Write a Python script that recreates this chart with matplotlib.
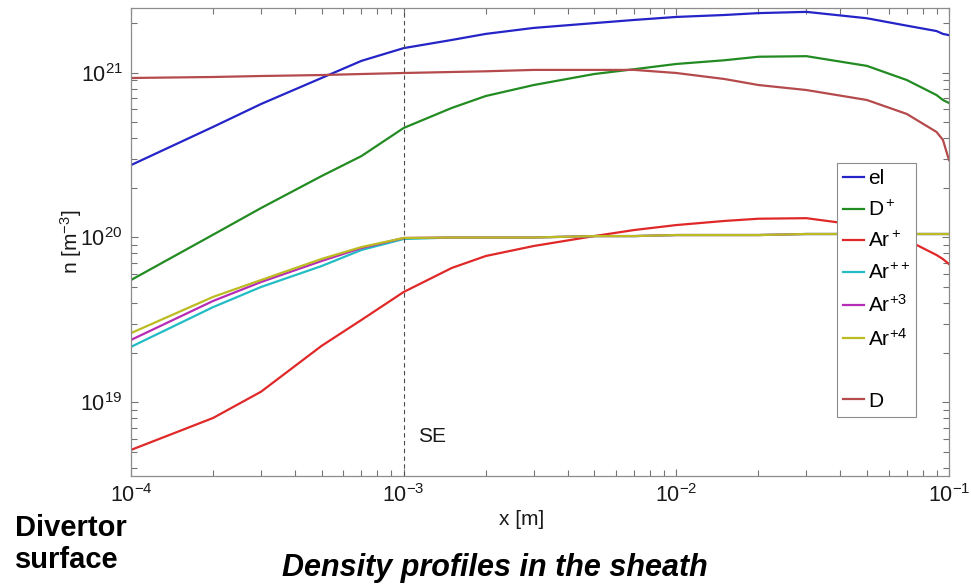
import numpy as np
import matplotlib
matplotlib.use("Agg")
import matplotlib.pyplot as plt
from matplotlib.lines import Line2D
from matplotlib.ticker import LogLocator, NullFormatter

plt.rcParams['font.family'] = ['Liberation Sans', 'DejaVu Sans']
plt.rcParams['mathtext.fontset'] = 'custom'
plt.rcParams['mathtext.rm'] = 'Liberation Sans'
plt.rcParams['mathtext.it'] = 'Liberation Sans:italic'
plt.rcParams['mathtext.bf'] = 'Liberation Sans:bold'

# distance from divertor surface [m]
x_m = [1e-4, 2e-4, 3e-4, 5e-4, 7e-4, 1e-3, 1.5e-3, 2e-3, 3e-3, 5e-3,
       7e-3, 1e-2, 1.5e-2, 2e-2, 3e-2, 5e-2, 7e-2, 9e-2, 9.5e-2, 1e-1]

# densities [m^-3]
n_el = [2.75e20, 4.69e20, 6.46e20, 9.29e20, 1.18e21, 1.41e21, 1.58e21, 1.72e21, 1.87e21, 2.00e21,
        2.09e21, 2.18e21, 2.24e21, 2.30e21, 2.34e21, 2.14e21, 1.93e21, 1.79e21, 1.72e21, 1.69e21]
n_Dp = [5.52e19, 1.04e20, 1.51e20, 2.36e20, 3.12e20, 4.62e20, 6.11e20, 7.22e20, 8.42e20, 9.82e20,
        1.05e21, 1.13e21, 1.19e21, 1.25e21, 1.26e21, 1.10e21, 9.03e20, 7.32e20, 6.83e20, 6.55e20]
n_Ar1 = [5.14e18, 8.03e18, 1.16e19, 2.20e19, 3.16e19, 4.67e19, 6.53e19, 7.72e19, 8.88e19, 1.02e20,
         1.11e20, 1.19e20, 1.26e20, 1.30e20, 1.31e20, 1.17e20, 9.66e19, 7.83e19, 7.40e19, 6.90e19]
n_Ar2 = [2.17e19, 3.78e19, 5.01e19, 6.71e19, 8.40e19, 9.79e19, 1.00e20, 1.00e20, 1.00e20, 1.02e20,
         1.02e20, 1.035e20, 1.035e20, 1.035e20, 1.05e20, 1.05e20, 1.05e20, 1.05e20, 1.05e20, 1.05e20]
n_Ar3 = [2.39e19, 4.12e19, 5.37e19, 7.20e19, 8.63e19, 9.93e19, 1.00e20, 1.00e20, 1.00e20, 1.02e20,
         1.02e20, 1.035e20, 1.035e20, 1.035e20, 1.05e20, 1.05e20, 1.05e20, 1.05e20, 1.05e20, 1.05e20]
n_Ar4 = [2.63e19, 4.36e19, 5.52e19, 7.41e19, 8.75e19, 9.93e19, 1.00e20, 1.00e20, 1.00e20, 1.02e20,
         1.02e20, 1.035e20, 1.035e20, 1.035e20, 1.05e20, 1.05e20, 1.05e20, 1.05e20, 1.05e20, 1.05e20]
n_D = [9.29e20, 9.42e20, 9.55e20, 9.68e20, 9.82e20, 9.96e20, 1.01e21, 1.02e21, 1.04e21, 1.04e21,
       1.04e21, 9.96e20, 9.16e20, 8.42e20, 7.85e20, 6.83e20, 5.62e20, 4.37e20, 3.91e20, 2.95e20]

labels = ['el', 'D$^+$', 'Ar$^+$', 'Ar$^{++}$', 'Ar$^{+3}$', 'Ar$^{+4}$', 'D']
colors = ['#2424c8', '#228b22', '#e02828', '#22bcc4', '#b62cb6', '#bcbc22', '#b44a4c']
series = [n_el, n_Dp, n_Ar1, n_Ar2, n_Ar3, n_Ar4, n_D]

fig = plt.figure(figsize=(9.71, 5.87), dpi=100)
ax = fig.add_axes([131/971, 111/587, 818/971, 468/587])

handles = []
for lab, col, n in zip(labels, colors, series):
    h, = ax.plot(x_m, n, color=col, lw=1.6, label=lab)
    handles.append(h)

ax.set_xscale('log')
ax.set_yscale('log')
ax.set_xlim(1e-4, 1e-1)
ax.set_ylim(3.57e18, 2.47e21)

# sheath entrance marker
ax.axvline(1e-3, color='0.3', lw=0.8, ls=(0, (4, 3)))
ax.text(1.13e-3, 6.2e18, 'SE', fontsize=15, va='center', ha='left', color='0.1')

ax.xaxis.set_major_locator(LogLocator(base=10, numticks=10))
ax.yaxis.set_major_locator(LogLocator(base=10, numticks=10))
ax.xaxis.set_minor_locator(LogLocator(base=10, subs=np.arange(2, 10), numticks=20))
ax.yaxis.set_minor_locator(LogLocator(base=10, subs=np.arange(2, 10), numticks=20))
ax.xaxis.set_minor_formatter(NullFormatter())
ax.yaxis.set_minor_formatter(NullFormatter())
ax.tick_params(which='both', direction='in', top=True, right=True, color='0.45', width=0.8)
ax.tick_params(which='major', length=5, labelsize=15.5, labelcolor='0.1', pad=6)
ax.tick_params(which='minor', length=4)
for sp in ax.spines.values():
    sp.set_color('0.55')
    sp.set_linewidth(0.9)

ax.set_xlabel('x [m]', fontsize=15, color='0.1')
ax.set_ylabel('n [m$^{-3}$]', fontsize=15, color='0.1')
ax.xaxis.set_label_coords(0.478, -0.072)
ax.yaxis.set_label_coords(-0.058, 0.5)

# legend with an empty row before D
blank = Line2D([], [], color='none')
leg_handles = handles[:6] + [blank, handles[6]]
leg_labels = labels[:6] + [' ', labels[6]]
leg = ax.legend(leg_handles, leg_labels, loc='upper left',
                bbox_to_anchor=(837/971, 1 - 163/587), bbox_transform=fig.transFigure,
                fontsize=15, handlelength=1.0, handletextpad=0.2, labelspacing=0.55,
                borderpad=0.3, borderaxespad=0, fancybox=False, framealpha=1,
                edgecolor='0.55')
leg.get_frame().set_linewidth(0.8)

fig.text(15/971, 1 - 514/587, 'Divertor\nsurface', fontsize=21, fontweight='bold',
         va='top', ha='left', linespacing=1.2)
fig.text(495/971, 1 - 568/587, 'Density profiles in the sheath', fontsize=22,
         fontweight='bold', style='italic', va='center', ha='center')

plt.savefig('out.png', dpi=100)
plt.close()
